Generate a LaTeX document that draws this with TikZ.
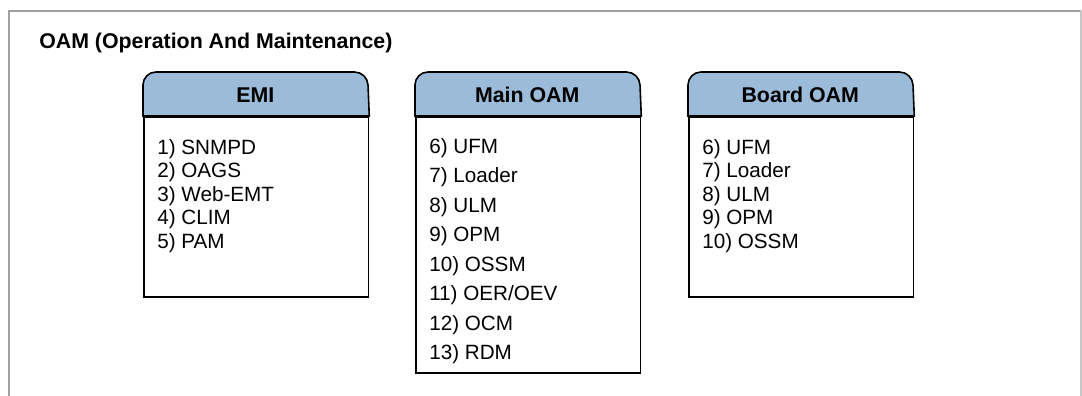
\documentclass[tikz,border=0pt]{standalone}
\usepackage{fontspec}
\setmainfont{Liberation Sans}
\definecolor{hdr}{RGB}{155,187,217}
\definecolor{frame}{RGB}{160,160,160}
\tikzset{
  px/.style={x=0.75pt,y=-0.75pt},
  boxline/.style={draw=black,line width=1.2pt},
  hdrtext/.style={font=\fontsize{16}{19}\selectfont\bfseries,anchor=center,inner sep=0pt},
  itemtext/.style={font=\fontsize{15.5}{17.6}\selectfont,anchor=north west,align=left,inner sep=0pt},
  itemtextwide/.style={font=\fontsize{15.5}{22.1}\selectfont,anchor=north west,align=left,inner sep=0pt},
  bodybox/.style={boxline,fill=white,rectangle,anchor=north west,inner sep=0pt,minimum width=168.5pt},
}
\begin{document}
\begin{tikzpicture}[px]
\useasboundingbox (0,0) rectangle (1082,396);
% outer frame (open at the bottom)
\coordinate (fbl) at (8.5,400);
\coordinate (ftl) at (8.5,11);
\coordinate (ftr) at (1081,11);
\coordinate (fbr) at (1081,400);
\draw[frame,line width=1.5pt] (fbl) -- (ftl) -- (ftr);
\draw[frame!60,line width=1.2pt] (ftr) -- (fbr);
\node[font=\fontsize{16}{19}\selectfont\bfseries,anchor=base west,inner sep=0pt] (title) at (39,48) {OAM (Operation And Maintenance)};

% EMI
\node[bodybox,minimum height=135pt] (emib) at (143,116) {};
\filldraw[boxline,fill=hdr] (emib.north west) [rounded corners=9.75pt] -- ++(0,-44) -- ++(224.5,0) [sharp corners] -- (emib.north east) -- cycle;
\node[hdrtext] (emih) at (255.25,95) {EMI};
\node[itemtext] (emii) at (157,139) {1) SNMPD\\2) OAGS\\3) Web-EMT\\4) CLIM\\5) PAM};

% Main OAM
\node[bodybox,minimum height=192pt] (mainb) at (415,116) {};
\filldraw[boxline,fill=hdr] (mainb.north west) [rounded corners=9.75pt] -- ++(0,-44) -- ++(224.5,0) [sharp corners] -- (mainb.north east) -- cycle;
\node[hdrtext] (mainh) at (527.25,95) {Main OAM};
\node[itemtextwide] (maini) at (429,138) {6) UFM\\7) Loader\\8) ULM\\9) OPM\\10) OSSM\\11) OER/OEV\\12) OCM\\13) RDM};

% Board OAM
\node[bodybox,minimum height=135pt] (boardb) at (688,116) {};
\filldraw[boxline,fill=hdr] (boardb.north west) [rounded corners=9.75pt] -- ++(0,-44) -- ++(224.5,0) [sharp corners] -- (boardb.north east) -- cycle;
\node[hdrtext] (boardh) at (800.25,95) {Board OAM};
\node[itemtext] (boardi) at (702,139) {6) UFM\\7) Loader\\8) ULM\\9) OPM\\10) OSSM};
\end{tikzpicture}
\end{document}
